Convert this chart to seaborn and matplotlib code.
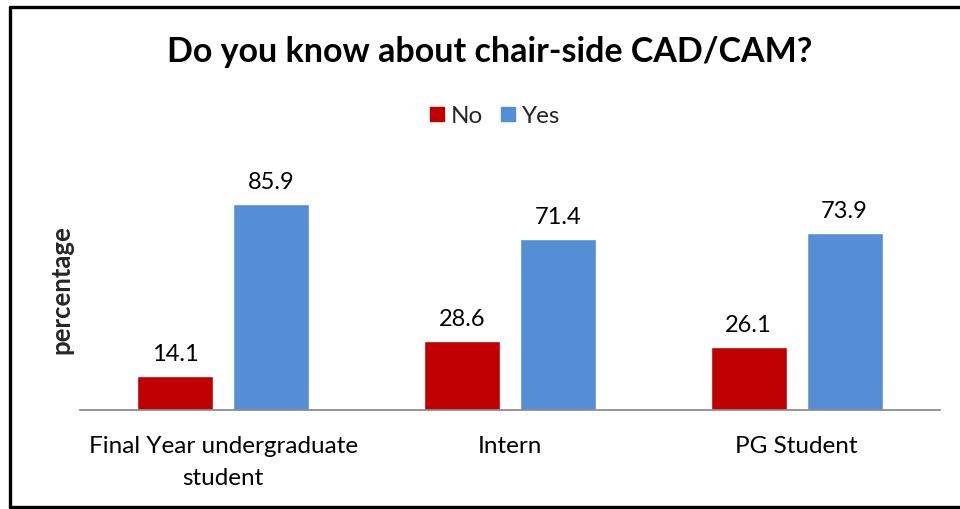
import matplotlib
matplotlib.use("Agg")
import matplotlib.pyplot as plt
from matplotlib.lines import Line2D
import pandas as pd
import seaborn as sns

# Survey results: awareness of chair-side CAD/CAM by group (%)
groups = ["Final Year undergraduate\nstudent", "Intern", "PG Student"]
answers = ["No", "Yes"]
no_pct = [14.1, 28.6, 26.1]
yes_pct = [85.9, 71.4, 73.9]
colors = {"No": "#C00000", "Yes": "#558ED5"}

df = pd.DataFrame({
    "group": groups * 2,
    "answer": ["No"] * len(groups) + ["Yes"] * len(groups),
    "pct": no_pct + yes_pct,
})

sns.set_theme(style="white")
plt.rcParams["font.family"] = ["Lato", "DejaVu Sans"]

fig = plt.figure(figsize=(9.6, 5.09), dpi=100)
ax = fig.add_axes([0.0833, 0.1945, 0.8958, 0.4715])

sns.barplot(data=df, x="group", y="pct", hue="answer", hue_order=answers,
            palette=colors, width=0.67, gap=0.21, ax=ax, legend=False,
            errorbar=None, saturation=1)

ax.set_ylim(0, 100)
ax.set_xlim(-0.5, 2.5)
ax.set_yticks([])
ax.set_xlabel("")
ax.set_ylabel("percentage", fontsize=18.5, fontweight="bold", labelpad=5)
for s in ["top", "right", "left"]:
    ax.spines[s].set_visible(False)
ax.spines["bottom"].set_color("#8C8C8C")
ax.spines["bottom"].set_linewidth(1.3)
ax.tick_params(axis="x", length=0, labelsize=17.5, pad=19, colors="#000000")
for lbl in ax.get_xticklabels():
    lbl.set_linespacing(1.6)

for cont in ax.containers:
    ax.bar_label(cont, fmt="%.1f", padding=8, fontsize=17, color="#000000")

fig.text(0.51, 0.898, "Do you know about chair-side CAD/CAM?", ha="center",
         va="center", fontsize=24.5, fontweight="bold", color="#000000")

handles = [plt.Rectangle((0, 0), 1, 1, color=colors[a]) for a in answers]
fig.legend(handles, answers, loc="center", bbox_to_anchor=(0.516, 0.772),
           ncol=2, frameon=False, fontsize=17.5, handlelength=0.56,
           handleheight=0.56, handletextpad=0.3, columnspacing=0.73)

# surrounding frame (left, top, bottom)
frame_kw = dict(color="#000000", linewidth=2.4, transform=fig.transFigure)
fig.add_artist(Line2D([0.0104, 0.0104], [0.004, 0.986], **frame_kw))
fig.add_artist(Line2D([0.0104, 1.0], [0.986, 0.986], **frame_kw))
fig.add_artist(Line2D([0.0104, 1.0], [0.004, 0.004], **frame_kw))

fig.savefig("out.png", dpi=100)
